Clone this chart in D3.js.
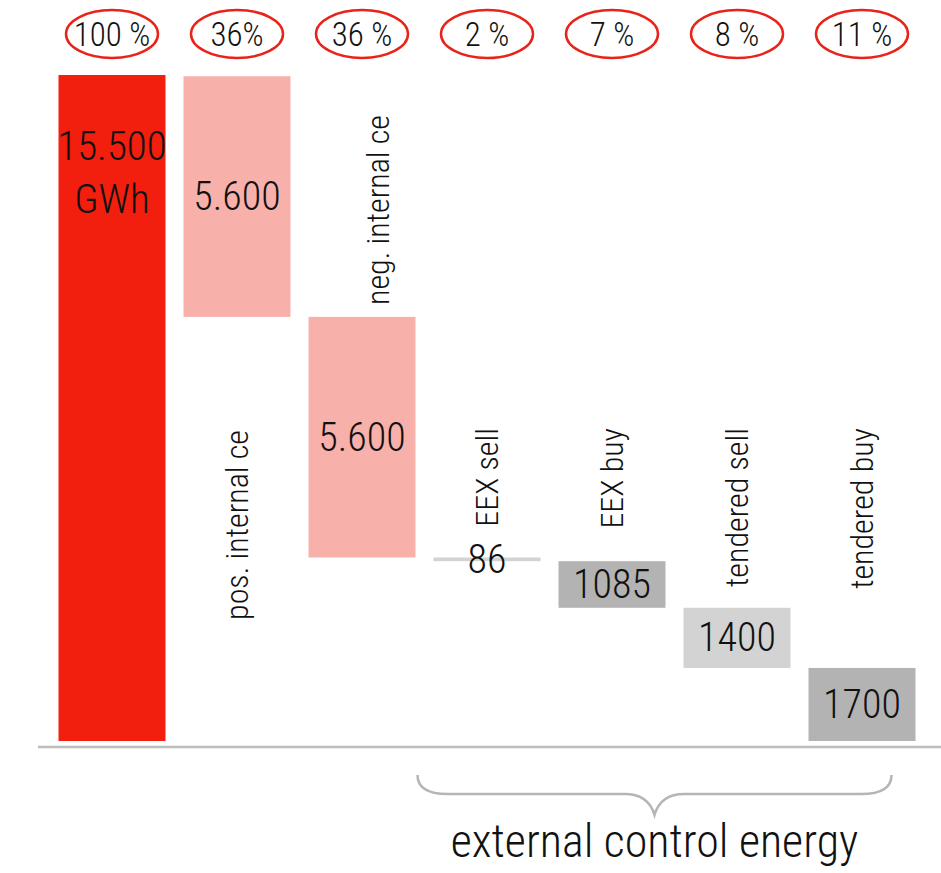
<!DOCTYPE html>
<html>
<head>
<meta charset="utf-8">
<script src="https://cdn.jsdelivr.net/npm/d3@7/dist/d3.min.js"></script>
<style>
  html, body { margin: 0; padding: 0; background: #fff; }
  svg { display: block; }
  text { font-family: Roboto, "Liberation Sans", sans-serif; font-stretch: condensed; font-weight: 350; fill: #111; }
</style>
</head>
<body>
<svg id="chart" width="941" height="873"></svg>
<script>
// Control energy: total volume split into its components (GWh)
const categories = ["total", "pos. internal ce", "neg. internal ce", "EEX sell", "EEX buy", "tendered sell", "tendered buy"];
const kinds      = ["total", "internal", "internal", "sell", "buy", "sell", "buy"];
const values     = [15500, 5600, 5600, 86, 1085, 1400, 1700];
const valueLabels = [["15.500", "GWh"], ["5.600"], ["5.600"], ["86"], ["1085"], ["1400"], ["1700"]];
const shareLabels = ["100 %", "36%", "36 %", "2 %", "7 %", "8 %", "11 %"];
const externalGroup = ["EEX sell", "EEX buy", "tendered sell", "tendered buy"];
const groupTitle = "external control energy";

const width = 941, height = 873;
const svg = d3.select("#chart");

const x = d3.scaleBand()
  .domain(categories)
  .range([49.5, 924.5])
  .paddingInner(0.144)
  .paddingOuter(0.072);

const y = d3.scaleLinear()
  .domain([0, values[0]])
  .range([741, 75]);

const color = d3.scaleOrdinal()
  .domain(["total", "internal", "sell", "buy"])
  .range(["#f21e0e", "#f8b0ab", "#d3d3d3", "#b3b3b3"]);

// Waterfall: the total stands on zero, the components stack down to zero from the right.
const bars = categories.map((c, i) => {
  if (i === 0) return { cat: c, kind: kinds[i], lo: 0, hi: values[0], i };
  const lo = d3.sum(values.slice(i + 1));
  return { cat: c, kind: kinds[i], lo, hi: lo + values[i], i };
});

// baseline
svg.append("line")
  .attr("x1", 38).attr("x2", width)
  .attr("y1", y(0) + 6).attr("y2", y(0) + 6)
  .attr("stroke", "#bdbdbd").attr("stroke-width", 2.5);

// bars
svg.append("g").selectAll("rect")
  .data(bars)
  .join("rect")
  .attr("x", d => x(d.cat))
  .attr("width", x.bandwidth())
  .attr("y", d => y(d.hi))
  .attr("height", d => y(d.lo) - y(d.hi))
  .attr("fill", d => color(d.kind));

// value labels
const vl = svg.append("g").selectAll("text")
  .data(bars)
  .join("text")
  .attr("text-anchor", "middle")
  .attr("x", d => x(d.cat) + x.bandwidth() / 2);

vl.filter(d => d.i === 0)
  .attr("font-size", 41)
  .selectAll("tspan")
  .data(d => valueLabels[d.i].map((t, k) => ({ t, k, d })))
  .join("tspan")
  .attr("x", o => x(o.d.cat) + x.bandwidth() / 2)
  .attr("y", o => y(o.d.hi) + 85 + o.k * 53)
  .text(o => o.t);

vl.filter(d => d.i > 0)
  .attr("font-size", 40)
  .attr("y", d => (y(d.hi) + y(d.lo)) / 2)
  .attr("dominant-baseline", "central")
  .text(d => valueLabels[d.i][0]);

// share ellipses
const shares = svg.append("g").selectAll("g")
  .data(categories)
  .join("g")
  .attr("transform", c => `translate(${x(c) + x.bandwidth() / 2},34)`);
shares.append("ellipse")
  .attr("rx", 46).attr("ry", 24)
  .attr("fill", "none")
  .attr("stroke", "#e8231a")
  .attr("stroke-width", 2.5);
shares.append("text")
  .attr("text-anchor", "middle")
  .attr("dominant-baseline", "central")
  .attr("font-size", 33)
  .text((c, i) => shareLabels[i]);

// rotated category labels
function catLabel(cat, anchor, yPos, dx) {
  const cx = x(cat) + x.bandwidth() / 2 + dx;
  svg.append("text")
    .attr("font-size", 32)
    .attr("text-anchor", anchor)
    .attr("dominant-baseline", "central")
    .attr("transform", `translate(${cx},${yPos}) rotate(-90)`)
    .text(cat);
}
catLabel("pos. internal ce", "end", 430, 0);
catLabel("neg. internal ce", "start", 305, 16);
externalGroup.forEach(c => catLabel(c, "end", 428, 0));

// brace under the external components
const bl = x(externalGroup[0]) - 16;
const br = x(externalGroup[externalGroup.length - 1]) + x.bandwidth() - 24;
const bm = (bl + br) / 2;
const yTop = 775, yMid = 794, yTip = 815;
const brace = d3.path();
brace.moveTo(bl, yTop);
brace.quadraticCurveTo(bl, yMid, bl + 30, yMid);
brace.lineTo(bm - 30, yMid);
brace.quadraticCurveTo(bm - 6, yMid, bm, yTip);
brace.quadraticCurveTo(bm + 6, yMid, bm + 30, yMid);
brace.lineTo(br - 30, yMid);
brace.quadraticCurveTo(br, yMid, br, yTop);
svg.append("path")
  .attr("d", brace.toString())
  .attr("fill", "none")
  .attr("stroke", "#b5b5b5")
  .attr("stroke-width", 2.5);

svg.append("text")
  .attr("x", bm)
  .attr("y", 857)
  .attr("text-anchor", "middle")
  .attr("font-size", 46)
  .text(groupTitle);
</script>
</body>
</html>
